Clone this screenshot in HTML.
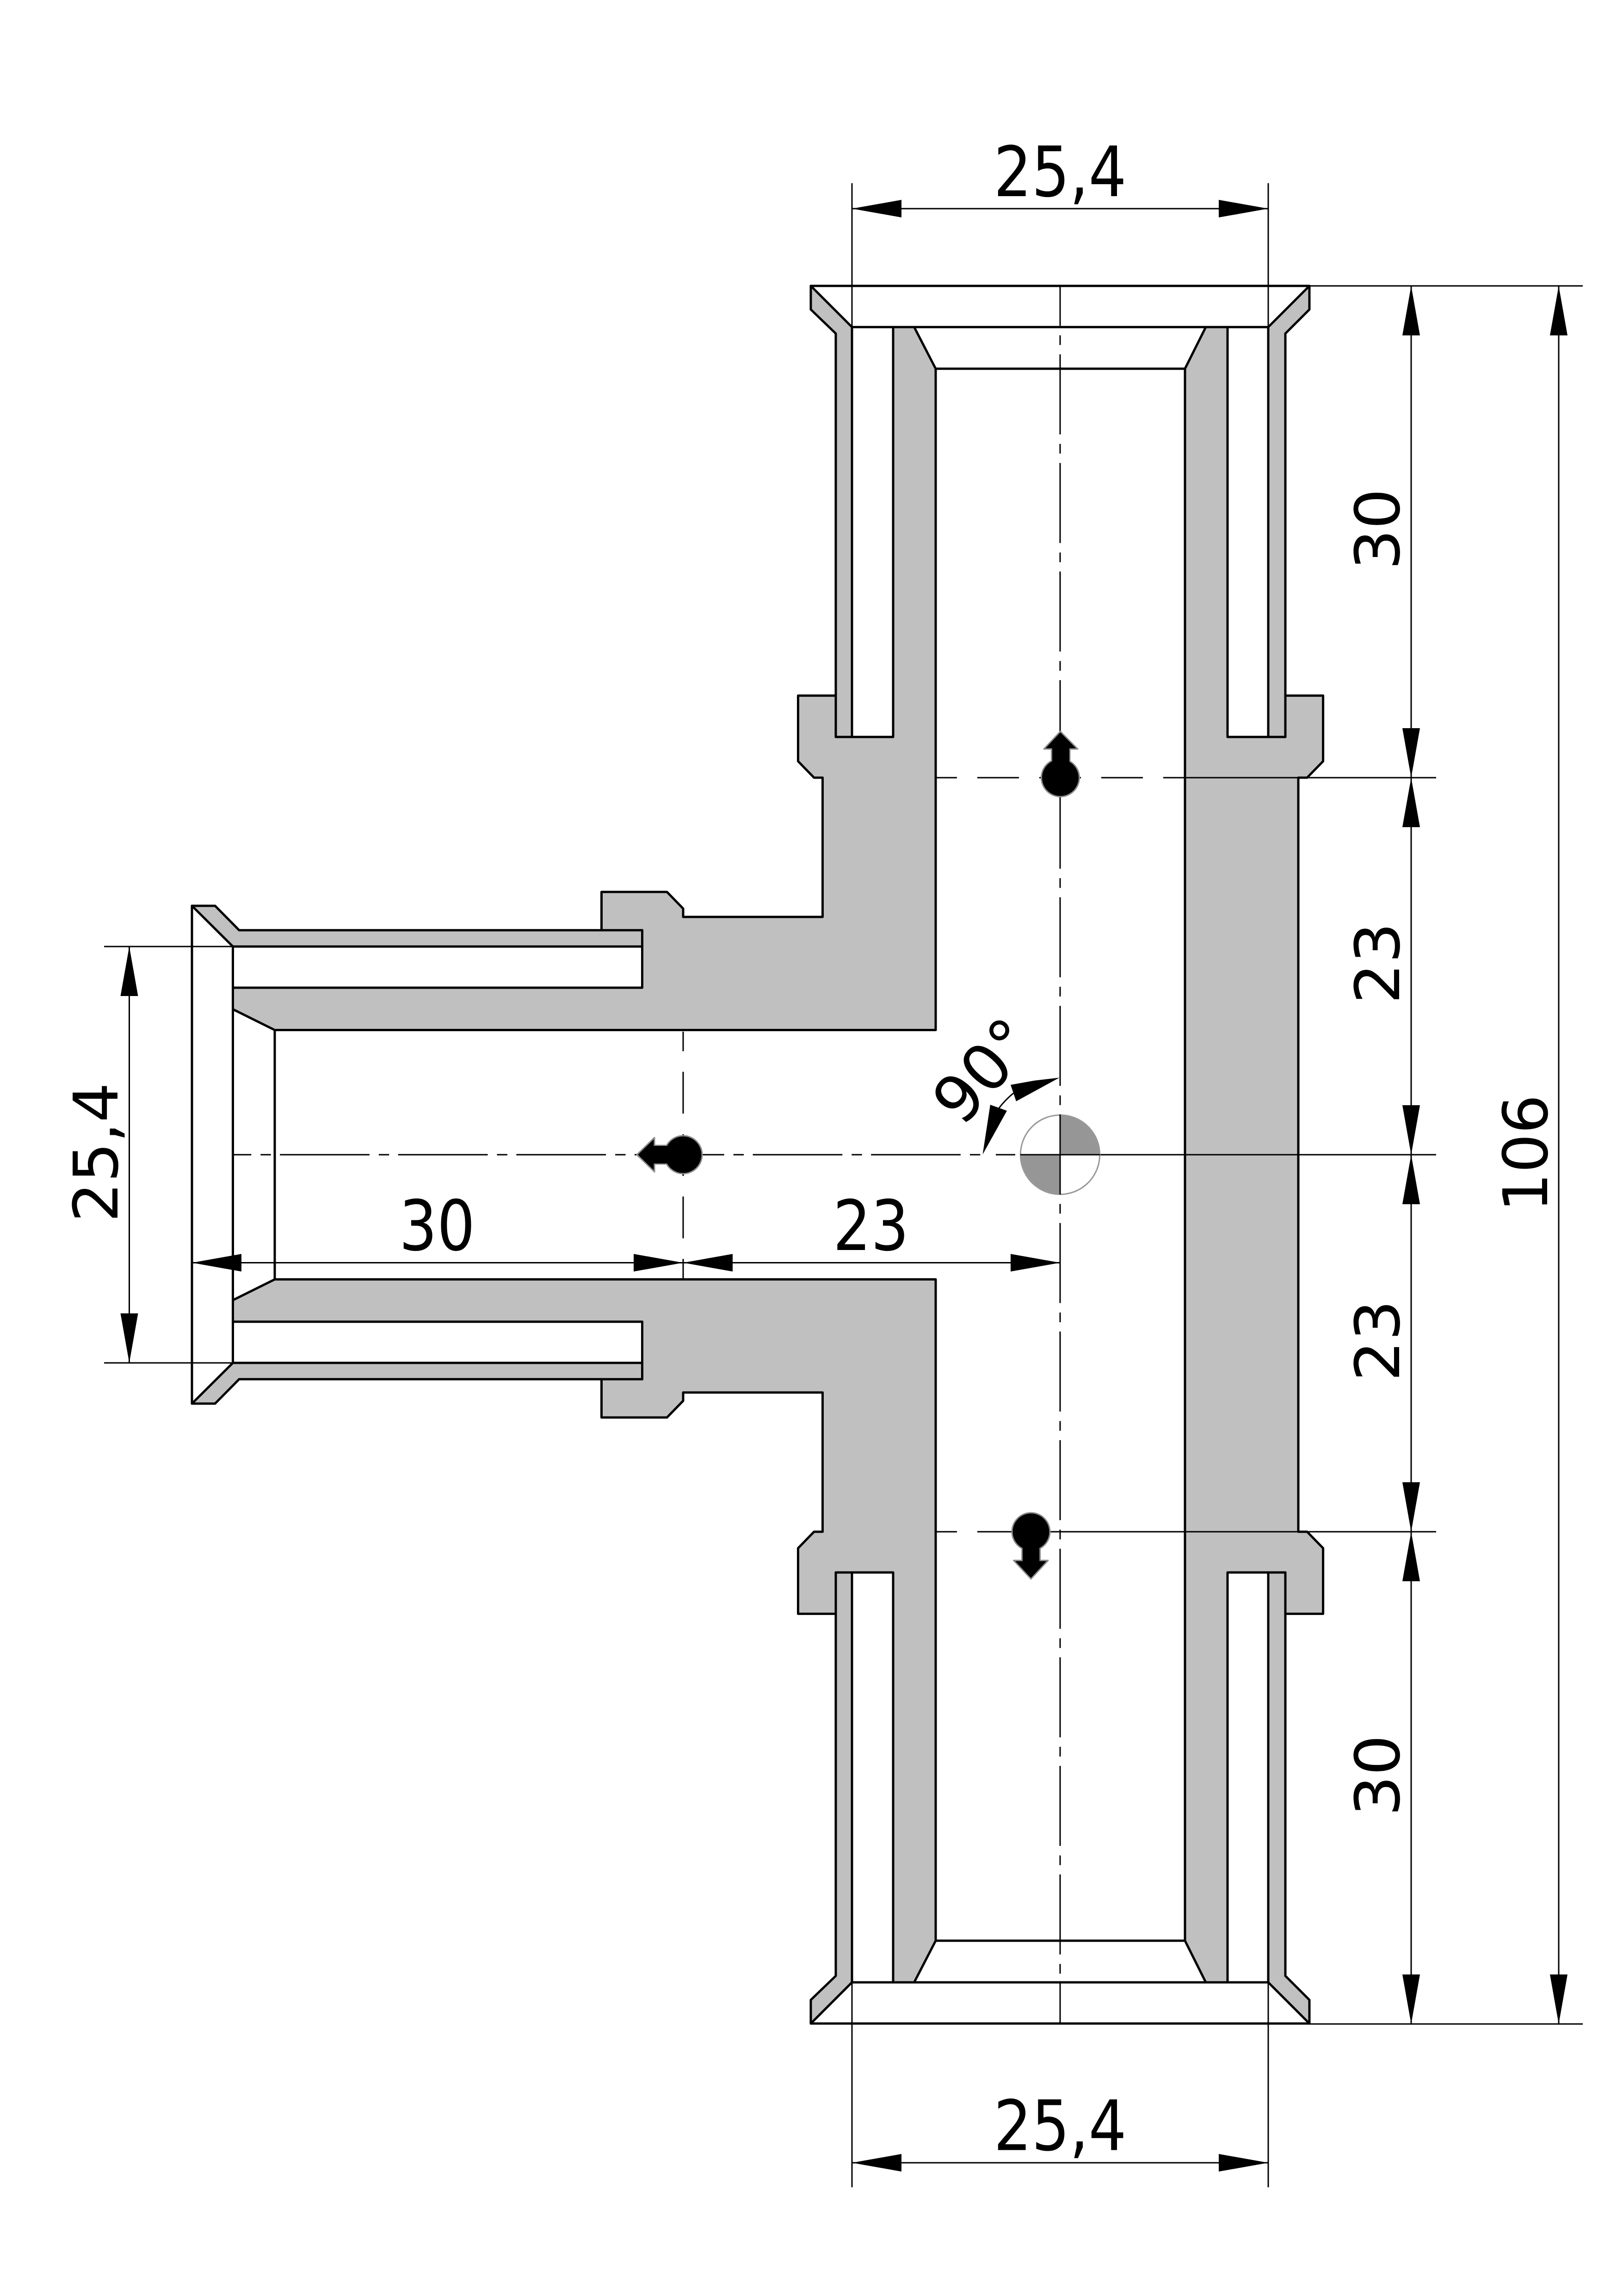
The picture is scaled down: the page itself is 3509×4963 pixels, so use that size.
<!DOCTYPE html>
<html>
<head>
<meta charset="utf-8">
<style>
html,body{margin:0;padding:0;background:#fff}
svg{display:block}
text{font-family:"DejaVu Sans","Liberation Sans",sans-serif;font-size:133px;fill:#000;text-anchor:middle}
</style>
</head>
<body>
<svg xmlns="http://www.w3.org/2000/svg" width="3509" height="4963" viewBox="0 0 3509 4963">
<rect width="3509" height="4963" fill="#fff"/>
<defs>
<g id="half">
  <path fill="#c0c0c0" d="M1753,618 L1753,669 L1807,721 L1807,1503.6 L1725.5,1503.6 L1725.5,1645.5 L1760,1681 L1778.5,1681 L1778.5,1982 L1477,1982 L1477,1964 L1442,1928 L1300.5,1928 L1300.5,2010.7 L517,2010.7 L465,1958 L415,1958 L503.5,2046 L1388.5,2046 L1388.5,2135 L503.5,2135 L503.5,2181.6 L594,2226.5 L2023,2226.5 L2023,797 L1976.5,707 L1931,707 L1931,1593 L1842,1593 L1842,707 Z"/>
  <path fill="#c0c0c0" d="M2831,618 L2831,669 L2779,721 L2779,1503.6 L2860.6,1503.6 L2860.6,1645.5 L2826,1681 L2807,1681 L2807,2497 L2562,2497 L2562,797 L2607,707 L2654,707 L2654,1593 L2742,1593 L2742,707 Z"/>
  <g fill="none" stroke="#000" stroke-width="5" stroke-linejoin="round" stroke-linecap="round">
    <path d="M1753,618 L2831,618"/>
    <path d="M1842,707 L2742,707"/>
    <path d="M2023,797 L2562,797"/>
    <path d="M1842,707 L1753,618 L1753,669 L1807,721 L1807,1593"/>
    <path d="M1807,1503.6 L1725.5,1503.6 L1725.5,1645.5 L1760,1681 L1778.5,1681 L1778.5,1982 L1477,1982 L1477,1964 L1442,1928 L1300.5,1928 L1300.5,2010.7"/>
    <path d="M1388.5,2010.7 L517,2010.7 L465,1958 L415,1958 L503.5,2046 L1388.5,2046"/>
    <path d="M1388.5,2010.7 L1388.5,2135 L503.5,2135"/>
    <path d="M503.5,2181.6 L594,2226.5 L2023,2226.5 L2023,797 L1976.5,707"/>
    <path d="M1842,707 L1842,1593 M1807,1593 L1931,1593 L1931,707"/>
    <path d="M2742,707 L2831,618 L2831,669 L2779,721 L2779,1593"/>
    <path d="M2779,1503.6 L2860.6,1503.6 L2860.6,1645.5 L2826,1681 L2807,1681 L2807,2496"/>
    <path d="M2562,2496 L2562,797 L2607,707"/>
    <path d="M2742,707 L2742,1593 M2779,1593 L2654,1593 L2654,707"/>
  </g>
</g>
</defs>
<use href="#half"/>
<use href="#half" transform="matrix(1 0 0 -1 0 4992)"/>
<g fill="none" stroke="#000" stroke-width="5" stroke-linecap="round">
  <path d="M415,1958 L415,3034"/>
  <path d="M503.5,2046 L503.5,2946"/>
  <path d="M594,2226.5 L594,2765.5"/>
</g>
<g fill="none" stroke="#000" stroke-width="3">
  <!-- centre lines -->
  <path d="M2292,618 L2292,4374.5" stroke-dasharray="173 20.5 21 20.2" stroke-dashoffset="86.7"/>
  <path d="M505,2496 L2134,2496" stroke-dasharray="193.7 20 22.4 19.5" stroke-dashoffset="155.4"/>
  <path d="M2153,2496 L2195,2496"/>
  <path d="M2206,2496 L3105,2496"/>
  <path d="M2023,1681 L2516,1681" stroke-dasharray="90 44" stroke-dashoffset="44"/>
  <path d="M2516,1681 L3105,1681"/>
  <path d="M2023,3311 L2069,3311 M2113,3311 L3105,3311"/>
  <path d="M1477,2230 L1477,2763" stroke-dasharray="90.3 44.5" stroke-dashoffset="48"/>
  <!-- dimension lines -->
  <path d="M1842,396 L1842,707 M2742,396 L2742,707 M1842,451 L2742,451"/>
  <path d="M1842,4286 L1842,4728 M2742,4286 L2742,4728 M1842,4675 L2742,4675"/>
  <path d="M3051,618 L3051,4375 M3370,618 L3370,4375"/>
  <path d="M2831,618 L3422,618 M2831,4375 L3422,4375"/>
  <path d="M279.5,2046 L279.5,2946 M225,2046 L505,2046 M225,2946 L505,2946"/>
  <path d="M415,2729.5 L2292,2729.5"/>
  <path d="M2191,2363 Q2173,2378 2160,2395"/>
</g>
<g fill="#000">
  <path d="M1842,451 L1949,432 L1949,470Z M2742,451 L2635,432 L2635,470Z"/>
  <path d="M1842,4675 L1949,4656 L1949,4694Z M2742,4675 L2635,4656 L2635,4694Z"/>
  <path d="M415,2729.5 L522,2710.5 L522,2748.5Z M1477,2729.5 L1370,2710.5 L1370,2748.5Z M1477,2729.5 L1584,2710.5 L1584,2748.5Z M2292,2729.5 L2185,2710.5 L2185,2748.5Z"/>
  <path d="M3051,618 L3032,725 L3070,725Z M3051,1681 L3032,1574 L3070,1574Z M3051,1681 L3032,1788 L3070,1788Z M3051,2496 L3032,2389 L3070,2389Z M3051,2496 L3032,2603 L3070,2603Z M3051,3311 L3032,3204 L3070,3204Z M3051,3311 L3032,3418 L3070,3418Z M3051,4375 L3032,4268 L3070,4268Z"/>
  <path d="M3370,618 L3351,725 L3389,725Z M3370,4375 L3351,4268 L3389,4268Z"/>
  <path d="M279.5,2046 L260.5,2153 L298.5,2153Z M279.5,2946 L260.5,2839 L298.5,2839Z"/>
  <path d="M2290.5,2329.5 L2236.5,2335.7 L2185,2345 L2197,2380.5Z"/>
  <path d="M2124.5,2495.5 L2141,2388 L2177,2401 Z"/>
</g>
<!-- flow markers -->
<g fill="#000" stroke="#8c8c8c" stroke-width="3" stroke-linejoin="round">
  <path d="M2292.5,1581 L2330,1619 L2313,1619 L2313,1650 L2273.5,1650 L2273.5,1619 L2257,1619 Z"/>
  <circle cx="2292.5" cy="1681" r="41"/>
  <path d="M2229,3413 L2266,3373 L2248.7,3373 L2248.7,3340 L2209.7,3340 L2209.7,3373 L2191.5,3373 Z"/>
  <circle cx="2229" cy="3311" r="41"/>
  <path d="M1377,2496 L1415,2459 L1415,2476 L1445,2476 L1445,2516 L1415,2516 L1415,2533 Z"/>
  <circle cx="1477" cy="2496" r="41"/>
</g>
<g fill="#000">
  <rect x="2275" y="1617" width="37" height="36"/>
  <rect x="2211" y="3337" width="36" height="38"/>
  <rect x="1413" y="2477" width="36" height="38"/>
</g>
<!-- centre symbol -->
<path d="M2292,2410 A85.5,86 0 0 1 2377.5,2496 L2292,2496 Z M2292,2582 A85.5,86 0 0 1 2206.5,2496 L2292,2496 Z" fill="#969696"/>
<circle cx="2292" cy="2496" r="85.7" fill="none" stroke="#999" stroke-width="3"/>
<path d="M2292,2409 L2292,2582 M2206,2496 L2378,2496" fill="none" stroke="#000" stroke-width="3"/>
<!-- labels -->
<text transform="translate(2292,424) scale(0.97,1.13)">25,4</text>
<text transform="translate(2292,4647.5) scale(0.97,1.13)">25,4</text>
<text transform="translate(945,2702) scale(0.97,1.13)">30</text>
<text transform="translate(1883,2702) scale(0.97,1.13)">23</text>
<text transform="translate(3025,1144) rotate(-90) scale(1.04,1)">30</text>
<text transform="translate(3025,2082) rotate(-90) scale(1.04,1)">23</text>
<text transform="translate(3025,2898) rotate(-90) scale(1.04,1)">23</text>
<text transform="translate(3025,3838) rotate(-90) scale(1.04,1)">30</text>
<text transform="translate(3345,2493) rotate(-90)">106</text>
<text transform="translate(254,2491) rotate(-90) scale(1.02,1)">25,4</text>
<text transform="translate(2080,2438) rotate(-48) scale(1.04,1.04)" style="text-anchor:start">90°</text>
</svg>
</body>
</html>
